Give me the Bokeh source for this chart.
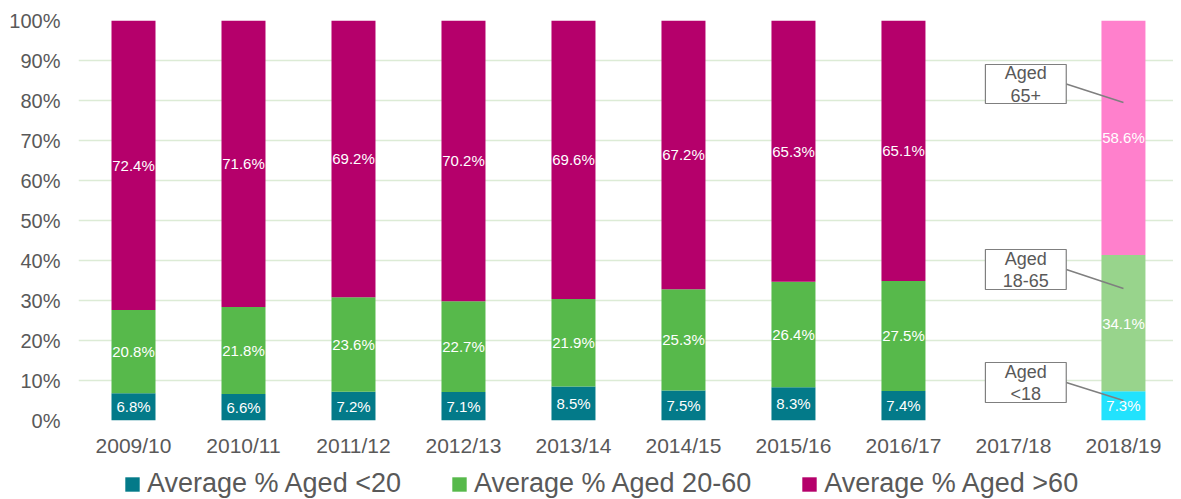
from bokeh.plotting import figure
from bokeh.layouts import column
from bokeh.models import ColumnDataSource, FixedTicker, PrintfTickFormatter, Legend, LegendItem, Range1d
from bokeh.core.properties import value
from bokeh.embed import file_html
from bokeh.resources import INLINE

years = ["2009/10", "2010/11", "2011/12", "2012/13", "2013/14", "2014/15",
         "2015/16", "2016/17", "2017/18", "2018/19"]
under20 = [6.8, 6.6, 7.2, 7.1, 8.5, 7.5, 8.3, 7.4, None, 7.3]
aged20_60 = [20.8, 21.8, 23.6, 22.7, 21.9, 25.3, 26.4, 27.5, None, 34.1]
over60 = [72.4, 71.6, 69.2, 70.2, 69.6, 67.2, 65.3, 65.1, None, 58.6]
series_names = ["Average % Aged <20", "Average % Aged 20-60", "Average % Aged >60"]
colors_main = ["#037a89", "#57b94b", "#b5006b"]
colors_last = ["#22e2fd", "#98d48c", "#ff80cc"]
callout_texts = [["Aged", "<18"], ["Aged", "18-65"], ["Aged", "65+"]]
y_ticks = [0, 10, 20, 30, 40, 50, 60, 70, 80, 90, 100]

FONT = "Liberation Sans"
GRAY = "#595959"

p = figure(frame_width=1095, frame_height=400, output_backend="svg", toolbar_location=None,
           x_range=Range1d(0, 9.955), y_range=Range1d(0, 100),
           min_border_left=78, min_border_right=0, min_border_top=20, min_border_bottom=48)
p.outline_line_color = None
p.xgrid.grid_line_color = None
p.ygrid.grid_line_color = "#dcebd5"
p.ygrid.grid_line_width = 1.5
p.ygrid.ticker = FixedTicker(ticks=y_ticks)

p.yaxis.ticker = FixedTicker(ticks=y_ticks)
p.yaxis.formatter = PrintfTickFormatter(format="%d%%")
p.yaxis.axis_line_color = None
p.yaxis.major_tick_line_color = None
p.yaxis.minor_tick_line_color = None
p.yaxis.major_tick_out = 0
p.yaxis.major_tick_in = 0
p.yaxis.minor_tick_out = 0
p.yaxis.major_label_standoff = 18
p.yaxis.major_label_text_font = FONT
p.yaxis.major_label_text_font_size = "20px"
p.yaxis.major_label_text_color = GRAY

centers = [i + 0.5 for i in range(len(years))]
p.xaxis.ticker = FixedTicker(ticks=centers)
p.xaxis.major_label_overrides = {c: y for c, y in zip(centers, years)}
p.xaxis.axis_line_color = None
p.xaxis.major_tick_line_color = None
p.xaxis.minor_tick_line_color = None
p.xaxis.major_tick_out = 0
p.xaxis.major_tick_in = 0
p.xaxis.minor_tick_out = 0
p.xaxis.major_label_standoff = 13
p.xaxis.major_label_text_font = FONT
p.xaxis.major_label_text_font_size = "21px"
p.xaxis.major_label_text_color = GRAY

series = [under20, aged20_60, over60]
bottoms = [0.0] * len(years)
for s_idx, vals in enumerate(series):
    xs, bot, top, cols, lab, ly = [], [], [], [], [], []
    for i, v in enumerate(vals):
        if v is None:
            continue
        b = bottoms[i]
        xs.append(centers[i])
        bot.append(b)
        top.append(b + v)
        cols.append(colors_last[s_idx] if i == len(years) - 1 else colors_main[s_idx])
        lab.append(f"{v:.1f}%")
        ly.append(b + v / 2)
        bottoms[i] = b + v
    src = ColumnDataSource(dict(x=xs, bottom=bot, top=top, color=cols, label=lab, ly=ly))
    p.vbar(x="x", bottom="bottom", top="top", width=0.4, fill_color="color",
           line_color=None, source=src)
    p.text(x="x", y="ly", text="label", source=src, text_align="center", text_baseline="middle",
           text_color="white", text_font=value(FONT), text_font_size="15px")

# callouts for last bar
last = centers[-1]
callout_boxes = [(4.5, 14.5, 5.0), (32.75, 42.75, 33.0), (79.25, 89.0, 79.5)]
for (b0, b1, tgt), lines in zip(callout_boxes, callout_texts):
    left, right = last - 1.255, last - 0.52
    mid = (b0 + b1) / 2
    p.segment(x0=[right], y0=[mid], x1=[last], y1=[tgt], line_color="#7f7f7f", line_width=1.5)
    p.quad(left=[left], right=[right], bottom=[b0], top=[b1], fill_color="white",
           line_color="#7f7f7f", line_width=1.2)
    p.text(x=[(left + right) / 2] * 2, y=[mid + 2.75, mid - 2.75], text=lines,
           text_align="center", text_baseline="middle", text_color=GRAY,
           text_font=value(FONT), text_font_size="18px")

# legend strip below the chart (proxy renderers sit outside the strip's visible range)
p2 = figure(frame_width=1173, frame_height=31, output_backend="svg", toolbar_location=None,
            x_range=Range1d(0, 1), y_range=Range1d(0, 1), min_border=0)
p2.axis.visible = False
p2.grid.visible = False
p2.outline_line_color = None
leg_renderers = [p2.vbar(x=[-5], bottom=[-5], top=[-4], width=0.1, fill_color=c, line_color=None)
                 for c in colors_main]
legend = Legend(items=[LegendItem(label=n, renderers=[r], index=0) for n, r in zip(series_names, leg_renderers)],
                orientation="horizontal", location=(123, 0), border_line_color=None,
                background_fill_alpha=0,
                label_text_font=FONT, label_text_font_size="27px", label_text_color=GRAY,
                glyph_width=18, glyph_height=18, label_standoff=6, spacing=49,
                padding=0, margin=0)
p2.add_layout(legend, "center")

open("out.html", "w").write(file_html(column(p, p2, spacing=0), INLINE))
